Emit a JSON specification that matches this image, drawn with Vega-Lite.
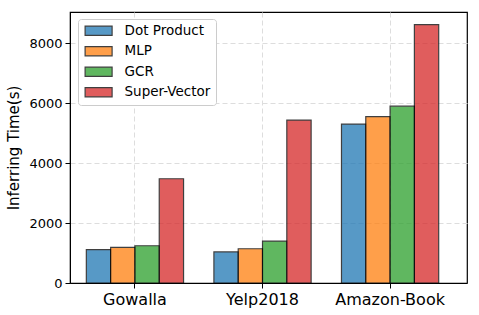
{
  "$schema": "https://vega.github.io/schema/vega-lite/v6.json",
  "width": 397,
  "height": 271,
  "autosize": "none",
  "padding": {"left": 70, "top": 12, "right": 12, "bottom": 32},
  "background": "white",
  "config": {
    "font": "DejaVu Sans",
    "view": {"stroke": "black", "strokeWidth": 1.2}
  },
  "data": {
    "values": [
      {"dataset": "Gowalla", "method": "Dot Product", "time": 1110},
      {"dataset": "Gowalla", "method": "MLP", "time": 1187},
      {"dataset": "Gowalla", "method": "GCR", "time": 1243},
      {"dataset": "Gowalla", "method": "Super-Vector", "time": 3477},
      {"dataset": "Yelp2018", "method": "Dot Product", "time": 1035},
      {"dataset": "Yelp2018", "method": "MLP", "time": 1143},
      {"dataset": "Yelp2018", "method": "GCR", "time": 1400},
      {"dataset": "Yelp2018", "method": "Super-Vector", "time": 5435},
      {"dataset": "Amazon-Book", "method": "Dot Product", "time": 5300},
      {"dataset": "Amazon-Book", "method": "MLP", "time": 5553},
      {"dataset": "Amazon-Book", "method": "GCR", "time": 5900},
      {"dataset": "Amazon-Book", "method": "Super-Vector", "time": 8620}
    ]
  },
  "mark": {"type": "bar", "stroke": "black", "strokeWidth": 1.2, "opacity": 0.75},
  "encoding": {
    "x": {
      "field": "dataset",
      "type": "nominal",
      "sort": ["Gowalla", "Yelp2018", "Amazon-Book"],
      "scale": {"paddingInner": 0.238, "paddingOuter": 0.175, "align": 0.366},
      "axis": {
        "title": null,
        "labelAngle": 0,
        "labelFontSize": 16,
        "labelColor": "black",
        "tickColor": "black",
        "domainColor": "black",
        "tickSize": 5,
        "labelPadding": 3,
        "grid": true,
        "gridDash": [5, 3],
        "gridColor": "#dddddd",
        "bandPosition": 0.5
      }
    },
    "xOffset": {
      "field": "method",
      "type": "nominal",
      "sort": ["Dot Product", "MLP", "GCR", "Super-Vector"],
      "scale": {"paddingInner": 0, "paddingOuter": 0}
    },
    "y": {
      "field": "time",
      "type": "quantitative",
      "scale": {"domain": [0, 9040], "nice": false},
      "axis": {
        "values": [0, 2000, 4000, 6000, 8000],
        "format": "d",
        "title": "Inferring Time(s)",
        "titleFontSize": 15,
        "titleFontWeight": "normal",
        "titleColor": "black",
        "titlePadding": 7,
        "labelFontSize": 13,
        "labelColor": "black",
        "tickColor": "black",
        "domainColor": "black",
        "tickSize": 5,
        "labelPadding": 3,
        "grid": true,
        "gridDash": [5, 3],
        "gridColor": "#dddddd"
      }
    },
    "color": {
      "field": "method",
      "type": "nominal",
      "scale": {
        "domain": ["Dot Product", "MLP", "GCR", "Super-Vector"],
        "range": ["#1f77b4", "#ff7f0e", "#2ca02c", "#d62728"]
      },
      "legend": {
        "orient": "none",
        "legendX": 8,
        "legendY": 7,
        "title": null,
        "fillColor": "white",
        "strokeColor": "#cccccc",
        "cornerRadius": 3,
        "padding": 5,
        "labelFontSize": 13.5,
        "labelColor": "black",
        "symbolType": "M-1,-1H4.82V1H-1Z",
        "symbolSize": 86,
        "labelOffset": 28,
        "rowPadding": 5.5,
        "symbolOpacity": 0.75,
        "symbolStrokeColor": "black",
        "symbolStrokeWidth": 1.2
      }
    }
  }
}
